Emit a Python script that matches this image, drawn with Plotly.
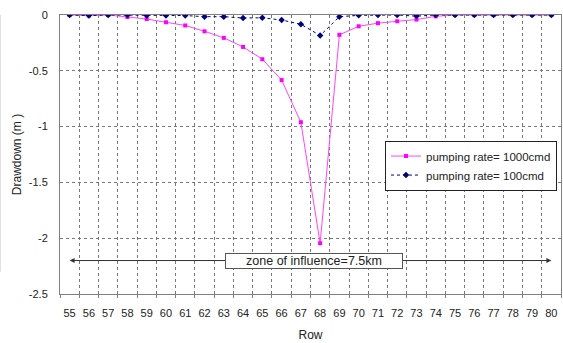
import plotly.graph_objects as go

rows = list(range(55, 81))
rate_1000 = [0.0, -0.005, 0.0, -0.018, -0.036, -0.065, -0.094, -0.146, -0.205, -0.286, -0.396,
             -0.583, -0.961, -2.045, -0.178, -0.101, -0.073, -0.056, -0.041, -0.012, 0.0,
             0.0, 0.0, 0.0, 0.0, 0.0]
rate_100 = [0.0, -0.005, 0.0, 0.0, -0.005, -0.005, -0.005, -0.015, -0.015, -0.027, -0.025,
            -0.045, -0.083, -0.184, -0.015, -0.003, 0.0, 0.0, -0.01, 0.0, 0.0,
            0.0, 0.0, 0.0, 0.0, 0.0]
y_ticks = [0, -0.5, -1, -1.5, -2, -2.5]
y_tick_text = ["0", "-0.5", "-1", "-1.5", "-2", "-2.5"]
zone_label = "zone of influence=7.5km"
zone_start, zone_end, zone_level, zone_center = 55, 80, -2.2, 67.7

FONT = "Liberation Sans, Arial, sans-serif"
TXT = "#222222"

fig = go.Figure()
fig.add_trace(go.Scatter(
    x=rows, y=rate_1000, mode="lines+markers", name="pumping rate= 1000cmd",
    line=dict(color="#FF44FF", width=1),
    marker=dict(symbol="square", size=4, color="#FF00FF")))
fig.add_trace(go.Scatter(
    x=rows, y=rate_100, mode="lines+markers", name="pumping rate= 100cmd",
    line=dict(color="#000080", width=1, dash="dot"),
    marker=dict(symbol="diamond", size=5, color="#000080")))

# double arrow for zone of influence
for end in (zone_start, zone_end):
    fig.add_annotation(x=end, y=zone_level, ax=zone_center, ay=zone_level,
                       xref="x", yref="y", axref="x", ayref="y", text="",
                       showarrow=True, arrowhead=2, arrowsize=1, arrowwidth=1,
                       arrowcolor="#333333")
fig.add_annotation(x=zone_center, y=zone_level, xref="x", yref="y", text=zone_label,
                   showarrow=False, bgcolor="white", bordercolor="#555555", borderwidth=1,
                   borderpad=1, width=174, height=12,
                   font=dict(family=FONT, size=12.5, color=TXT))

# faint border line at the very left edge
fig.add_shape(type="line", xref="paper", yref="paper", x0=-0.119, x1=-0.119, y0=0.08, y1=1.0,
              line=dict(color="#dddddd", width=1))

fig.update_layout(
    width=563, height=343,
    margin=dict(l=60, r=2, t=15, b=49, autoexpand=False),
    paper_bgcolor="white", plot_bgcolor="white",
    font=dict(family=FONT, size=11, color=TXT),
    showlegend=True,
    legend=dict(x=0.992, y=0.55, xanchor="right", yanchor="top",
                bgcolor="white", bordercolor="#222222", borderwidth=1,
                font=dict(family=FONT, size=11.5, color=TXT),
                tracegroupgap=0, itemwidth=30),
    xaxis=dict(range=[54.5, 80.5], tickmode="array", tickvals=rows,
               ticktext=[str(r) for r in rows], showgrid=False, zeroline=False,
               showline=True, linecolor="#808080", linewidth=1, mirror=True,
               ticks="", ticklabelstandoff=9, automargin=False,
               title=dict(text="Row", font=dict(family=FONT, size=12, color=TXT), standoff=12),
               minor=dict(tickmode="linear", tick0=55.5, dtick=1, showgrid=True,
                          gridcolor="#777777", griddash="dot", gridwidth=1,
                          ticks="outside", ticklen=3, tickcolor="#808080")),
    yaxis=dict(range=[-2.5, 0], tickmode="array", tickvals=y_ticks, ticktext=y_tick_text,
               showgrid=True, gridcolor="#777777", griddash="dot", gridwidth=1,
               zeroline=False, showline=True, linecolor="#808080", linewidth=1, mirror=True,
               ticks="", ticklabelstandoff=9, automargin=False,
               title=dict(text="Drawdown (m )", font=dict(family=FONT, size=12, color=TXT),
                          standoff=4)),
)

fig.write_html("out.html")
